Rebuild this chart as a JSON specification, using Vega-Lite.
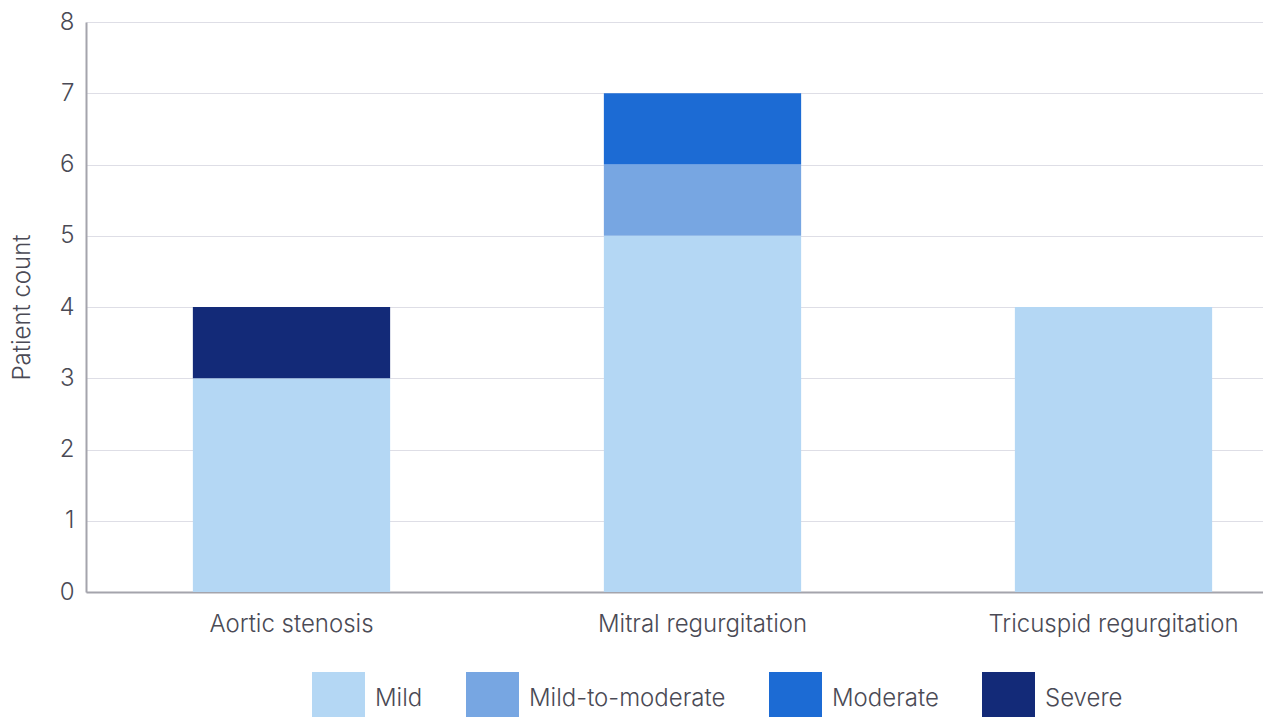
{
  "$schema": "https://vega.github.io/schema/vega-lite/v6.json",
  "autosize": "none",
  "width": 1233,
  "height": 570,
  "padding": {"left": 86, "top": 22, "right": 0, "bottom": 125},
  "background": "white",
  "config": {
    "font": "Inter",
    "view": {"stroke": null}
  },
  "data": {
    "values": [
      {"condition": "Aortic stenosis", "severity": "Mild", "count": 3},
      {"condition": "Aortic stenosis", "severity": "Severe", "count": 1},
      {"condition": "Mitral regurgitation", "severity": "Mild", "count": 5},
      {"condition": "Mitral regurgitation", "severity": "Mild-to-moderate", "count": 1},
      {"condition": "Mitral regurgitation", "severity": "Moderate", "count": 1},
      {"condition": "Tricuspid regurgitation", "severity": "Mild", "count": 4}
    ]
  },
  "mark": {"type": "bar"},
  "encoding": {
    "x": {
      "field": "condition",
      "type": "nominal",
      "sort": null,
      "scale": {"paddingInner": 0.52, "paddingOuter": 0.26},
      "axis": {
        "title": null,
        "labelAngle": 0,
        "labelFont": "Inter",
        "labelFontWeight": 300,
        "labelFontSize": 24,
        "labelColor": "#4a4a55",
        "labelPadding": 20,
        "labelLimit": 500,
        "ticks": false,
        "domainColor": "#a4a4ac",
        "domainWidth": 2
      }
    },
    "y": {
      "field": "count",
      "type": "quantitative",
      "aggregate": "sum",
      "scale": {"domain": [0, 8]},
      "axis": {
        "title": "Patient count",
        "titleFont": "Inter",
        "titleFontWeight": 300,
        "titleFontSize": 24,
        "titleColor": "#4a4a55",
        "titlePadding": 24,
        "tickCount": 8,
        "labelFont": "Inter",
        "labelFontWeight": 300,
        "labelFontSize": 24,
        "labelColor": "#4a4a55",
        "labelPadding": 12,
        "ticks": false,
        "domainColor": "#a4a4ac",
        "domainWidth": 2,
        "gridColor": "#dedee6",
        "gridWidth": 1
      }
    },
    "order": {"field": "severity", "sort": "ascending"},
    "color": {
      "field": "severity",
      "type": "nominal",
      "scale": {
        "domain": ["Mild", "Mild-to-moderate", "Moderate", "Severe"],
        "range": ["#b4d7f4", "#77a6e2", "#1c6bd4", "#132a78"]
      },
      "legend": {
        "title": null,
        "orient": "none",
        "direction": "horizontal",
        "legendX": 226,
        "legendY": 650,
        "symbolType": "square",
        "symbolSize": 2809,
        "symbolStrokeWidth": 0,
        "symbolOpacity": 1,
        "labelFont": "Inter",
        "labelFontWeight": 300,
        "labelFontSize": 24,
        "labelColor": "#4a4a55",
        "labelOffset": 10,
        "columnPadding": 43,
        "labelLimit": 400
      }
    }
  }
}
